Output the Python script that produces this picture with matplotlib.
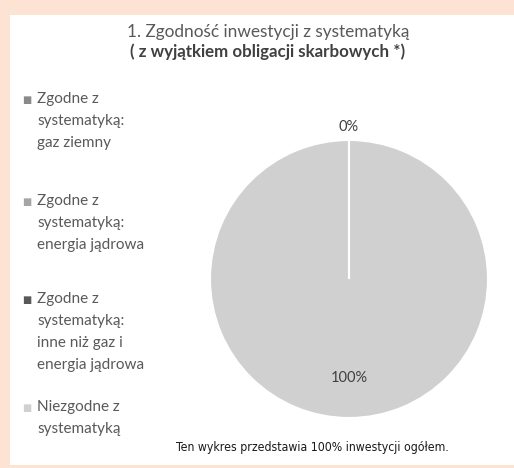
import matplotlib
matplotlib.use("Agg")
import matplotlib.pyplot as plt
from matplotlib.patches import Rectangle

# ---- data ----
categories = [
    "Zgodne z\nsystematyką:\ngaz ziemny",
    "Zgodne z\nsystematyką:\nenergia jądrowa",
    "Zgodne z\nsystematyką:\ninne niż gaz i\nenergia jądrowa",
    "Niezgodne z\nsystematyką",
]
values = [0, 0, 0, 100]
colors = ["#8a8a8a", "#a5a5a5", "#595959", "#d0d0d0"]
title_line1 = "1. Zgodność inwestycji z systematyką"
title_line2 = "( z wyjątkiem obligacji skarbowych *)"
footnote = "Ten wykres przedstawia 100% inwestycji ogółem."

W, H = 514, 468
fig = plt.figure(figsize=(W / 100, H / 100), dpi=100)
fig.patch.set_facecolor("#fde3d4")
fig.add_artist(Rectangle((10 / W, 3 / H), 1 - 10 / W, (465 - 15) / H,
                         transform=fig.transFigure, facecolor="white",
                         edgecolor="none", zorder=0))

FONT = ["Lato", "DejaVu Sans"]
TXT = "#595959"

# pie axes
cx, cy, r = 349, 279, 139
ax = fig.add_axes([(cx - r) / W, (H - cy - r) / H, 2 * r / W, 2 * r / H])
wedges, texts, autotexts = ax.pie(
    values, colors=colors, startangle=90, counterclock=False,
    wedgeprops=dict(edgecolor="white", linewidth=1.5),
    autopct=lambda p: f"{p:.0f}%", pctdistance=0.71,
    textprops=dict(fontsize=10.5, color="#404040", family=FONT),
)
seen_zero = False
for v, w, t in zip(values, wedges, autotexts):
    if v == 0:
        w.set_zorder(5)
        if seen_zero:
            t.set_visible(False)
        else:
            x, y = t.get_position()
            t.set_position((x * 1.09 / 0.71, y * 1.09 / 0.71))
            seen_zero = True
ax.set_xlim(-1, 1)
ax.set_ylim(-1, 1)
ax.set_aspect("equal")
ax.axis("off")

# title
fig.text(268 / W, 1 - 32 / H, title_line1, ha="center", va="center",
         fontsize=12.4, color=TXT, family=FONT)
fig.text(268 / W, 1 - 52 / H, title_line2, ha="center", va="center",
         fontsize=12.2, color="#404040", family=FONT, fontweight="bold")

# legend (manual)
tops = [100, 202, 300, 408]
for lab, col, ty in zip(categories, colors, tops):
    fig.text(22 / W, 1 - ty / H, "■", ha="left", va="center", fontsize=7,
             color=col, family=["DejaVu Sans"])
    fig.text(37 / W, 1 - (ty - 8) / H, lab, ha="left", va="top",
             fontsize=11, color=TXT, family=FONT, linespacing=1.72)

# footnote
fig.text(312 / W, 1 - 447 / H, footnote, ha="center", va="center",
         fontsize=8.8, color="#1a1a1a",
         family=["DejaVu Sans"], fontstretch="condensed")

fig.savefig("out.png", dpi=100, facecolor=fig.get_facecolor())
